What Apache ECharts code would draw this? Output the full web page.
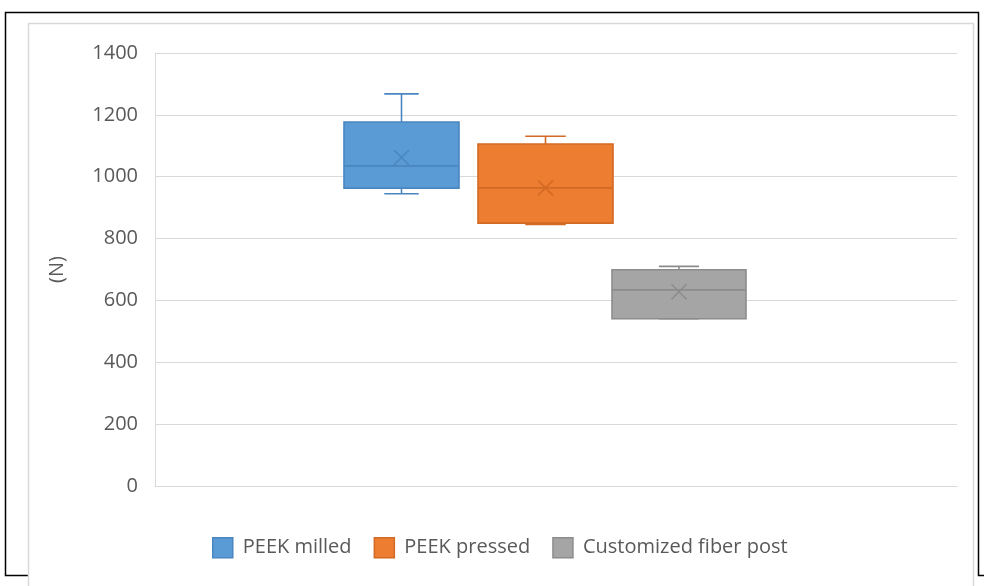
<!DOCTYPE html>
<html>
<head>
<meta charset="utf-8">
<script src="https://cdn.jsdelivr.net/npm/echarts@6/dist/echarts.min.js"></script>
<style>
html,body{margin:0;padding:0;background:#fff;}
#chart{width:984px;height:586px;}
</style>
</head>
<body>
<div id="chart"></div>
<script>
// ---- data ----
const categories = ['PEEK milled', 'PEEK pressed', 'Customized fiber post'];
const minValues = [945, 846, 541];
const q1Values = [963, 850, 541];
const medianValues = [1035, 964, 634];
const q3Values = [1177, 1106, 699];
const maxValues = [1268, 1131, 710];
const meanValues = [1062, 964, 628];
const yTicks = [0, 200, 400, 600, 800, 1000, 1200, 1400];
const yAxisName = '(N)';

// ---- styles ----
const fills = ['#5b9bd5', '#ed7d31', '#a5a5a5'];
const strokes = ['#4a86c0', '#d26a24', '#8c8c8c'];
const boxGrids = [
  {left: 344, width: 115},
  {left: 478, width: 135},
  {left: 612, width: 134}
];
const TOP = 53, BOTTOM = 100;
const FONT = '"Open Sans", sans-serif';
const TEXT = '#595959';

const chart = echarts.init(document.getElementById('chart'));

function makeRender(i) {
  return function (params, api) {
    const idx = api.value(0);
    const pt = v => api.coord([idx, v]);
    const cx = pt(0)[0];
    const bw = api.size([1, 0])[0];
    const half = bw / 2;
    const cap = bw * 0.15;
    const yMin = pt(api.value(1))[1];
    const yQ1 = pt(api.value(2))[1];
    const yMed = pt(api.value(3))[1];
    const yQ3 = pt(api.value(4))[1];
    const yMax = pt(api.value(5))[1];
    const yMean = pt(api.value(6))[1];
    const ls = {stroke: strokes[i], lineWidth: 1.6, fill: null};
    const xs = 7.5;
    return {
      type: 'group',
      children: [
        {type: 'line', shape: {x1: cx, y1: yQ3, x2: cx, y2: yMax}, style: ls},
        {type: 'line', shape: {x1: cx - cap, y1: yMax, x2: cx + cap, y2: yMax}, style: ls},
        {type: 'line', shape: {x1: cx, y1: yQ1, x2: cx, y2: yMin}, style: ls},
        {type: 'line', shape: {x1: cx - cap, y1: yMin, x2: cx + cap, y2: yMin}, style: ls},
        {type: 'rect', shape: {x: cx - half, y: yQ3, width: bw, height: yQ1 - yQ3},
          style: {fill: fills[i], stroke: strokes[i], lineWidth: 1.6}},
        {type: 'line', shape: {x1: cx - half, y1: yMed, x2: cx + half, y2: yMed}, style: ls},
        {type: 'line', shape: {x1: cx - xs, y1: yMean - xs, x2: cx + xs, y2: yMean + xs}, style: ls},
        {type: 'line', shape: {x1: cx - xs, y1: yMean + xs, x2: cx + xs, y2: yMean - xs}, style: ls}
      ]
    };
  };
}

const grids = [{left: 155, right: 27, top: TOP, bottom: BOTTOM}];
const xAxes = [{
  gridIndex: 0, type: 'category', data: [''],
  axisLine: {show: true, lineStyle: {color: '#d9d9d9', width: 1}},
  axisTick: {show: false}, axisLabel: {show: false}, splitLine: {show: false}
}];
const yAxes = [{
  gridIndex: 0, type: 'value', min: yTicks[0], max: yTicks[yTicks.length - 1],
  interval: yTicks[1] - yTicks[0],
  name: yAxisName, nameLocation: 'middle', nameGap: 88,
  nameTextStyle: {color: TEXT, fontSize: 20, fontFamily: FONT},
  axisLine: {show: true, lineStyle: {color: '#d9d9d9', width: 1}},
  axisTick: {show: false},
  axisLabel: {color: TEXT, fontSize: 20, fontFamily: FONT, margin: 17, formatter: v => String(v)},
  splitLine: {show: true, lineStyle: {color: '#d9d9d9', width: 1}}
}];
const series = [];
categories.forEach((name, i) => {
  grids.push({left: boxGrids[i].left, width: boxGrids[i].width, top: TOP, bottom: BOTTOM});
  xAxes.push({gridIndex: i + 1, type: 'category', data: [name], show: false});
  yAxes.push({gridIndex: i + 1, type: 'value', min: yTicks[0], max: yTicks[yTicks.length - 1], show: false});
  series.push({
    name: name,
    type: 'custom',
    xAxisIndex: i + 1,
    yAxisIndex: i + 1,
    itemStyle: {color: fills[i], borderColor: strokes[i]},
    encode: {x: 0, y: [1, 2, 3, 4, 5, 6]},
    data: [[name, minValues[i], q1Values[i], medianValues[i], q3Values[i], maxValues[i], meanValues[i]]],
    renderItem: makeRender(i),
    z: 3
  });
});

chart.setOption({
  animation: false,
  backgroundColor: '#ffffff',
  graphic: [
    {type: 'polyline', shape: {points: [[28, 575.5], [5.5, 575.5], [5.5, 12.5], [978.5, 12.5], [978.5, 575.5], [984, 575.5]]},
      style: {stroke: '#000', lineWidth: 1.5, fill: null}, silent: true},
    {type: 'rect', shape: {x: 28.5, y: 23.5, width: 945, height: 600},
      style: {stroke: '#d9d9d9', lineWidth: 1.5, fill: null}, silent: true}
  ],
  grid: grids,
  xAxis: xAxes,
  yAxis: yAxes,
  legend: {
    left: 207, top: 532,
    itemWidth: 20, itemHeight: 20, itemGap: 22,
    icon: 'rect',
    textStyle: {color: TEXT, fontSize: 20, fontFamily: FONT, padding: [0, 0, 0, 5]},
    data: categories.map((n, i) => ({name: n, itemStyle: {color: fills[i], borderColor: strokes[i], borderWidth: 1.5}}))
  },
  series: series
});
</script>
</body>
</html>
